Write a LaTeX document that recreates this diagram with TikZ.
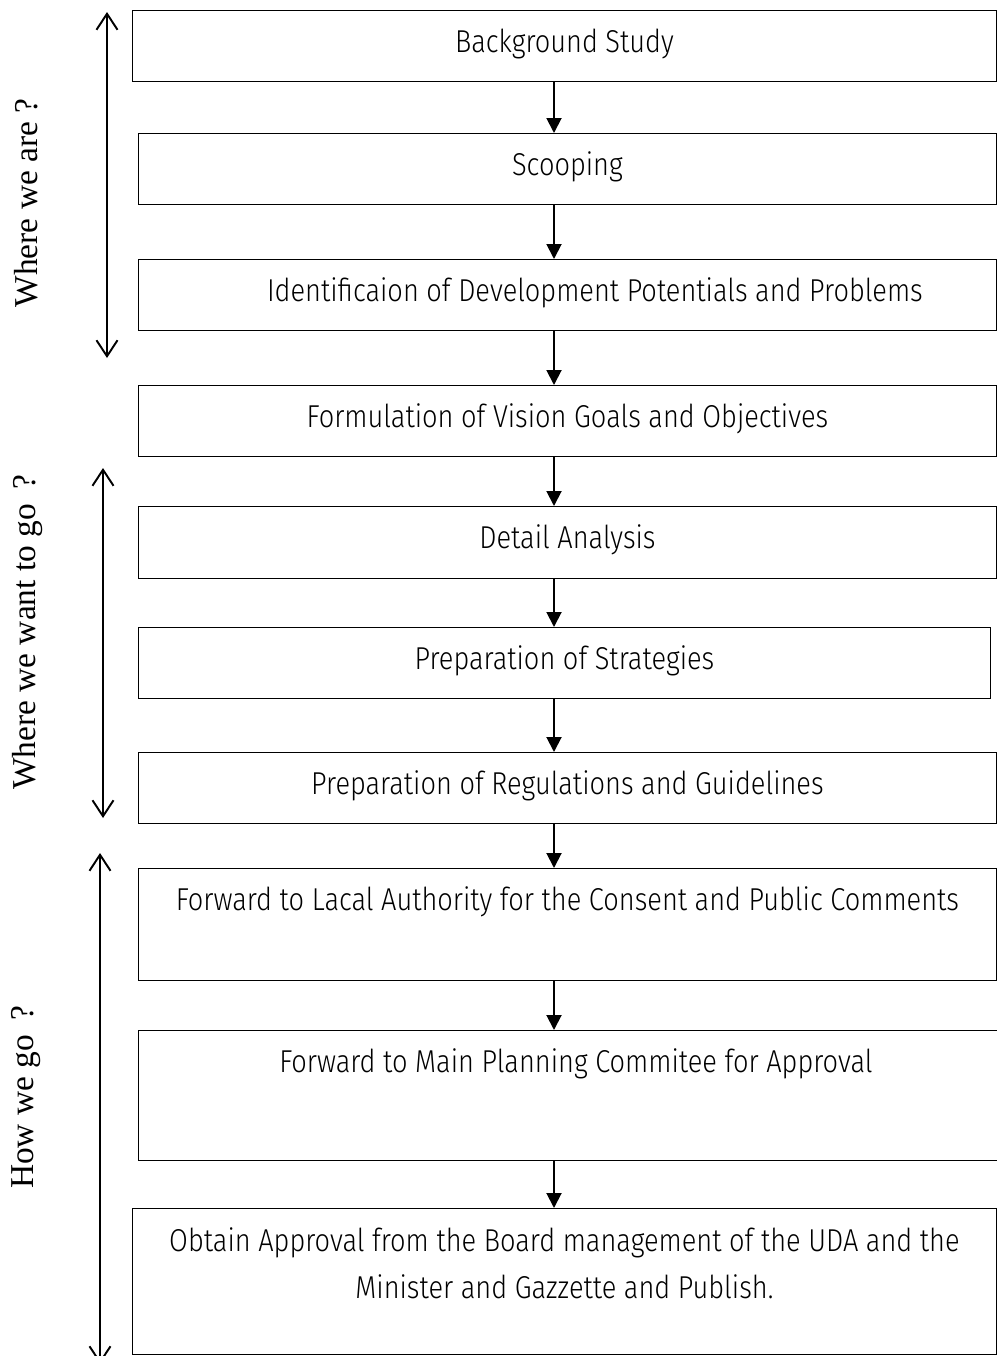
\documentclass[tikz,border=0pt]{standalone}
\usepackage{fontspec}
\setmainfont{Liberation Serif}
\newfontfamily\stagefont{Fira Sans Light}[FakeStretch=0.86]
\usetikzlibrary{arrows.meta}

\tikzset{
  stage/.style={draw,line width=0.6pt,anchor=north west,inner sep=0pt,
    text height=0.84cm,font=\stagefont\fontsize{18}{27}\selectfont},
  flow/.style={line width=1.1pt,-{Triangle[length=0.3cm,width=0.3cm]}},
  span/.style={line width=1.1pt,
    {Straight Barb[length=0.32cm,width=0.42cm]}-{Straight Barb[length=0.32cm,width=0.42cm]}},
  phase/.style={rotate=90,font=\fontsize{19}{23}\selectfont}
}

\begin{document}
\begin{tikzpicture}[x=0.02cm,y=-0.02cm]
    \useasboundingbox (0,0) rectangle (997,1356);

    \node[stage,minimum width=17.28cm,minimum height=1.42cm,text depth=0.58cm] (study) at (132,10) {Background Study};
    \node[stage,minimum width=17.16cm,minimum height=1.42cm,text depth=0.58cm] (scope) at (138,133) {Scooping};
    \node[stage,minimum width=17.16cm,minimum height=1.42cm,text depth=0.58cm] (issues) at (138,259) {\hspace*{1.1cm}Identificaion of Development Potentials and Problems};
    \node[stage,minimum width=17.16cm,minimum height=1.42cm,text depth=0.58cm] (vision) at (138,385) {Formulation of Vision Goals and Objectives};
    \node[stage,minimum width=17.16cm,minimum height=1.44cm,text depth=0.60cm] (analysis) at (138,506) {Detail Analysis};
    \node[stage,minimum width=17.04cm,minimum height=1.42cm,text depth=0.58cm] (strategy) at (138,627) {Preparation of Strategies};
    \node[stage,minimum width=17.16cm,minimum height=1.42cm,text depth=0.58cm] (rules) at (138,752) {Preparation of Regulations and Guidelines};
    \node[stage,minimum width=17.16cm,minimum height=2.24cm,text depth=1.40cm] (council) at (138,868) {Forward to Lacal Authority for the Consent and Public Comments};
    \node[stage,minimum width=17.50cm,minimum height=2.60cm,text depth=1.76cm] (committee) at (138,1030) {Forward to Main Planning Commitee for Approval};
    \node[stage,align=center,minimum width=17.28cm,minimum height=2.92cm,text height=1.80cm,text depth=1.12cm] (approval) at (132,1208) {Obtain Approval from the Board management of the UDA and the\\Minister and Gazzette and Publish.};

    \coordinate (spine) at (554,0);
    \foreach \a/\b in {study/scope,scope/issues,issues/vision,vision/analysis,analysis/strategy,strategy/rules,rules/council,council/committee,committee/approval} {
      \draw[flow] (\a.south -| spine) -- (\b.north -| spine);
    }

    \coordinate (are top) at (107,12);
    \coordinate (are end) at (107,358);
    \coordinate (want top) at (103,468);
    \coordinate (want end) at (103,818);
    \coordinate (how top) at (100,853);
    \coordinate (how end) at (100,1364);
    \draw[span] (are top) -- (are end);
    \draw[span] (want top) -- (want end);
    \draw[span] (how top) -- (how end);

    \node[phase] (are) at (26,203) {Where we are ?};
    \node[phase] (want) at (28,632) {Where we want to go\hspace{0.45em}?};
    \node[phase] (how) at (26,1097) {How we go\hspace{0.45em}?};
  \end{tikzpicture}
\end{document}
